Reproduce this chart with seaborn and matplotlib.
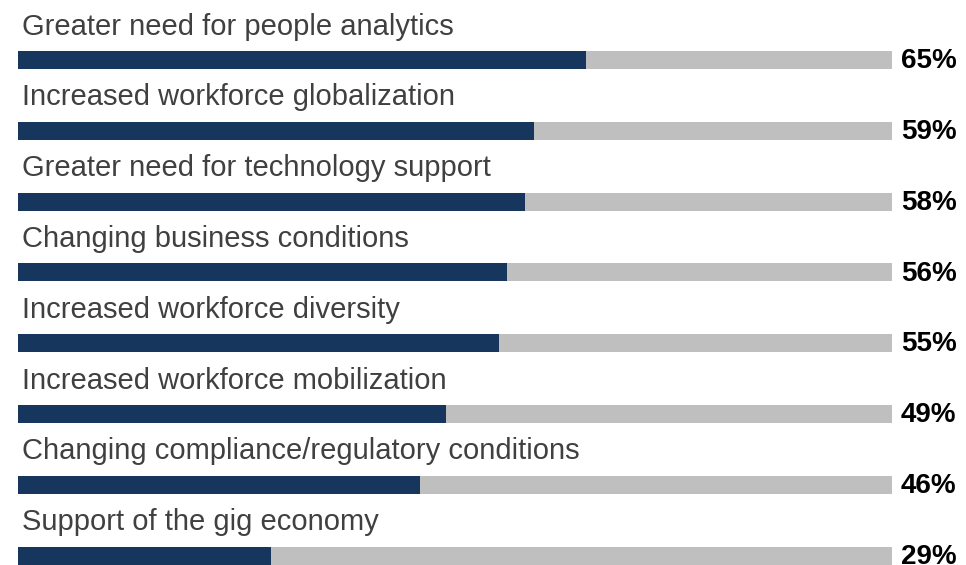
import matplotlib
matplotlib.use("Agg")
import matplotlib.pyplot as plt
import seaborn as sns
import pandas as pd

categories = [
    "Greater need for people analytics",
    "Increased workforce globalization",
    "Greater need for technology support",
    "Changing business conditions",
    "Increased workforce diversity",
    "Increased workforce mobilization",
    "Changing compliance/regulatory conditions",
    "Support of the gig economy",
]
values = [65, 59, 58, 56, 55, 49, 46, 29]
totals = [100] * len(categories)

df = pd.DataFrame({"category": categories, "value": values, "total": totals})

sns.set_theme(style="white")
plt.rcParams["font.family"] = ["Liberation Sans", "DejaVu Sans"]

fig = plt.figure(figsize=(9.66, 5.65), dpi=100)
ax = fig.add_axes([18 / 966, 0, 874 / 966, 1])

bw = 18 / 70.8
sns.barplot(data=df, y="category", x="total", color="#BFBFBF", width=bw,
            orient="h", ax=ax, saturation=1, linewidth=0)
sns.barplot(data=df, y="category", x="value", color="#17365D", width=bw,
            orient="h", ax=ax, saturation=1, linewidth=0)

ax.set_xlim(0, 100)
ax.set_ylim(505 / 70.8, -60 / 70.8)
ax.axis("off")

for i, (c, v) in enumerate(zip(categories, values)):
    ax.text(0.46, i - 0.36, c, fontsize=21, color="#404040", va="baseline",
            ha="left", clip_on=False)
    ax.text(101.0, i + 0.115, f"{v}%", fontsize=20, fontweight="bold",
            color="#000000", va="baseline", ha="left", clip_on=False)

fig.savefig("out.png", dpi=100)
